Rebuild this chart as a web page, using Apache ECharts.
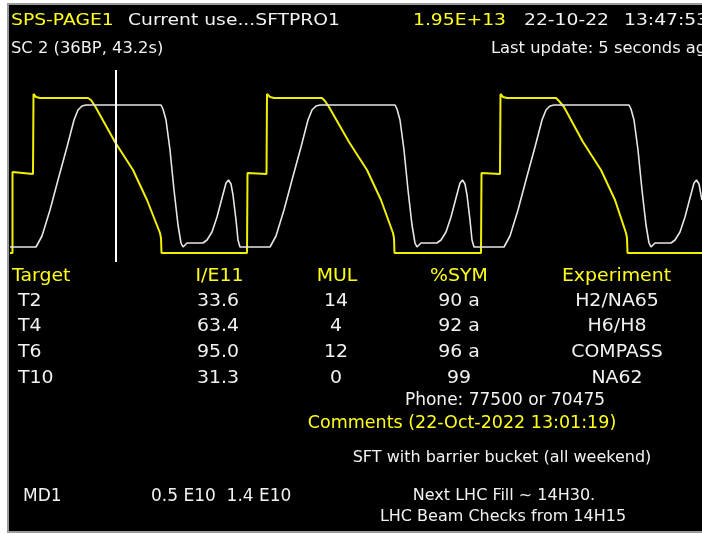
<!DOCTYPE html>
<html>
<head>
<meta charset="utf-8">
<script src="https://cdn.jsdelivr.net/npm/echarts@6/dist/echarts.min.js"></script>
<style>html,body{margin:0;padding:0;background:#fff;}#c{width:702px;height:534px;}</style>
</head>
<body>
<div id="c"></div>
<script>
// ---- data: cycle traces (time units, signal level) ----
const yellowTrace = [
  [0,2],[2.5,2],[2.5,83],[4,81],[23,81],[23.5,161],[26,158],[30,157],[78,157],[81,155],[85,149],
  [105,113],[123,85],[137,55],[150,22],[151,17],[151.5,2],[237,2],[237.5,82],[239,81],[256.5,81],
  [257,161],[260,158],[264,157],[312,157],[315,154],[319,148],[339,113],[357,85],[371,55],[383,22],
  [384,17],[384.5,2],[471,2],[471.5,82],[473,81],[490,81],[490.5,161],[493,158],[497,157],[546,157],
  [549,154],[554,148],[573,113],[591,85],[605,55],[616,22],[617,17],[617.5,2],[692,2]
];
const whiteTrace = [
  [0,8],[26,8],[28,10],[32,19],[40,45],[48,75],[57,108],[64,135],[68,145],[72,149],[76,150],
  [151,150],[153,146],[156,135],[160,105],[164,65],[168,30],[171,12],[173,8],[175,8],[177,12],
  [193,12],[197,15],[202,23],[207,38],[212,57],[216,72],[218.5,75],[221,71],[223,60],[226,35],
  [228,15],[230,8],[260,8],[262,10],[266,19],[274,45],[282,75],[291,108],[298,135],[302,145],
  [306,149],[310,150],[385,150],[387,146],[390,135],[394,105],[398,65],[402,30],[405,12],[407,8],
  [409,8],[411,12],[427,12],[431,15],[436,23],[441,38],[446,57],[450,72],[452.5,75],[455,71],
  [457,60],[460,35],[462,15],[464,8],[494,8],[496,10],[500,19],[508,45],[516,75],[525,108],
  [532,135],[536,145],[540,149],[544,150],[619,150],[621,146],[624,135],[628,105],[632,65],
  [636,30],[639,12],[641,8],[643,8],[645,12],[661,12],[665,15],[670,23],[675,38],[680,57],
  [684,72],[686.5,75],[689,71],[691,60],[692,55]
];
const cursorTime = 106;

// ---- data: texts ----
const headerTitle = "SPS-PAGE1";
const headerUser = "Current use...SFTPRO1";
const headerIntensity = "1.95E+13";
const headerDate = "22-10-22";
const headerTime = "13:47:53";
const cycleInfo = "SC 2 (36BP, 43.2s)";
const lastUpdate = "Last update: 5 seconds ago";
const tableHeads = ["Target", "I/E11", "MUL", "%SYM", "Experiment"];
const targets = ["T2", "T4", "T6", "T10"];
const intensities = ["33.6", "63.4", "95.0", "31.3"];
const muls = ["14", "4", "12", "0"];
const syms = ["90 a", "92 a", "96 a", "99"];
const experiments = ["H2/NA65", "H6/H8", "COMPASS", "NA62"];
const phone = "Phone: 77500 or 70475";
const commentsHead = "Comments (22-Oct-2022 13:01:19)";
const comment1 = "SFT with barrier bucket (all weekend)";
const mdName = "MD1";
const mdValues = "0.5 E10  1.4 E10";
const comment2 = "Next LHC Fill ~ 14H30.";
const comment3 = "LHC Beam Checks from 14H15";

const YEL = '#ffff1a', WHT = '#f2f2f2', FONT = 'DejaVu Sans';
function txt(text, x, y, opt) {
  opt = opt || {};
  return {
    type: 'text', x: x, y: y, z: 100,
    scaleX: opt.sx || 1,
    style: {
      text: text, x: 0, y: 0,
      fill: opt.color || WHT,
      fontSize: opt.size || 16,
      fontFamily: FONT,
      align: opt.align || 'left',
      verticalAlign: 'middle'
    }
  };
}

const graphics = [
  { type: 'rect', z: 0, shape: { x: 8, y: 4, width: 700, height: 528 }, style: { fill: '#000', stroke: '#9a9a9a', lineWidth: 2 } },
  txt(headerTitle, 11, 20.5, { color: YEL, sx: 1.17 }),
  txt(headerUser, 128, 20.5, { sx: 1.17 }),
  txt(headerIntensity, 413, 20.5, { color: YEL, sx: 1.17 }),
  txt(headerDate, 524, 20.5, { sx: 1.17 }),
  txt(headerTime, 624, 20.5, { sx: 1.17 }),
  txt(cycleInfo, 11, 49, { sx: 1.02 }),
  txt(lastUpdate, 491, 49, { sx: 1.02 })
];
const colX = [12, 219.5, 337, 459, 616.5];
const headAlign = ['left', 'center', 'center', 'center', 'center'];
tableHeads.forEach((h, i) => graphics.push(txt(h, colX[i], 276.5, { color: YEL, size: 18, sx: 1.05, align: headAlign[i] })));
const rowY = [301, 326.5, 352, 378];
targets.forEach((t, i) => {
  graphics.push(txt(t, 18, rowY[i], { size: 18, sx: 1.05 }));
  graphics.push(txt(intensities[i], 218, rowY[i], { size: 18, sx: 1.05, align: 'center' }));
  graphics.push(txt(muls[i], 336, rowY[i], { size: 18, sx: 1.05, align: 'center' }));
  graphics.push(txt(syms[i], 459, rowY[i], { size: 18, sx: 1.05, align: 'center' }));
  graphics.push(txt(experiments[i], 617, rowY[i], { size: 18, sx: 1.05, align: 'center' }));
});
graphics.push(txt(phone, 505, 401, { size: 17, align: 'center' }));
graphics.push(txt(commentsHead, 462, 423, { size: 17.5, color: YEL, align: 'center' }));
graphics.push(txt(comment1, 502, 458, { size: 16, align: 'center' }));
graphics.push(txt(mdName, 23, 497, { size: 17 }));
graphics.push(txt(mdValues, 151, 497, { size: 17 }));
graphics.push(txt(comment2, 504, 496, { size: 16, align: 'center' }));
graphics.push(txt(comment3, 503, 517, { size: 16, align: 'center' }));

const chart = echarts.init(document.getElementById('c'), null, { renderer: 'canvas' });
chart.setOption({
  backgroundColor: '#ffffff',
  animation: false,
  graphic: { elements: graphics },
  grid: { left: 10, right: 0, top: 70, bottom: 272 },
  xAxis: { type: 'value', min: 0, max: 692, show: false },
  yAxis: { type: 'value', min: -7, max: 185, show: false },
  series: [
    {
      type: 'line', data: yellowTrace, showSymbol: false, z: 3,
      lineStyle: { color: '#f0f000', width: 2 }
    },
    {
      type: 'line', data: whiteTrace, showSymbol: false, z: 4,
      lineStyle: { color: '#e6e6e6', width: 1.6 },
      markLine: {
        silent: true, symbol: 'none', label: { show: false },
        lineStyle: { color: '#ffffff', width: 2, type: 'solid' },
        data: [{ xAxis: cursorTime }]
      }
    }
  ]
});
</script>
</body>
</html>
